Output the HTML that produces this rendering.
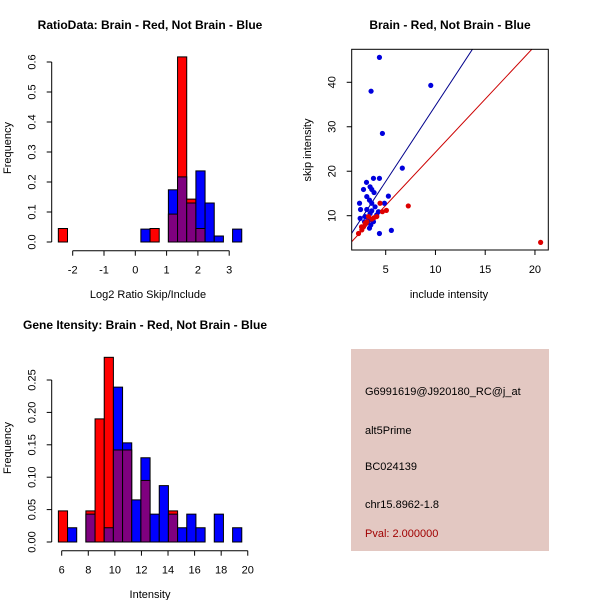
<!DOCTYPE html>
<html><head><meta charset="utf-8">
<style>
body{margin:0;background:#fff;}
svg{display:block;font-family:"Liberation Sans",Arial,sans-serif;}
</style></head>
<body>
<svg id="c" width="600" height="600" viewBox="0 0 600 600">
<rect width="600" height="600" fill="#fff"/>
<text x="150" y="29" text-anchor="middle" font-size="12" font-weight="bold">RatioData: Brain - Red, Not Brain - Blue</text>
<text x="148" y="298" text-anchor="middle" font-size="11">Log2 Ratio Skip/Include</text>
<text transform="translate(11,148) rotate(-90)" text-anchor="middle" font-size="11">Frequency</text>

<text x="450" y="29" text-anchor="middle" font-size="12" font-weight="bold">Brain - Red, Not Brain - Blue</text>
<text x="449" y="298" text-anchor="middle" font-size="11">include intensity</text>
<text transform="translate(311,150) rotate(-90)" text-anchor="middle" font-size="11">skip intensity</text>

<text x="145" y="329" text-anchor="middle" font-size="12" font-weight="bold">Gene Itensity: Brain - Red, Not Brain - Blue</text>
<text x="150" y="598" text-anchor="middle" font-size="11">Intensity</text>
<text transform="translate(11,448) rotate(-90)" text-anchor="middle" font-size="11">Frequency</text>

<g>
<rect x="351" y="349" width="198" height="202" fill="#e3c8c2"/>
<text x="365" y="395" font-size="11">G6991619@J920180_RC@j_at</text>
<text x="365" y="434" font-size="11">alt5Prime</text>
<text x="365" y="470" font-size="11">BC024139</text>
<text x="365" y="508" font-size="11">chr15.8962-1.8</text>
<text x="365" y="537" font-size="11" fill="#a00000">Pval: 2.000000</text>
</g>
</svg>
<script>
// Ratio histogram data
const ratioBinStart = -2.459;
const ratioBinWidth = 0.293;
const ratioRed  = [0.045,0,0,0,0,0,0,0,0,0,0.045,0,0.093,0.617,0.143,0.045,0,0,0,0];
const ratioBlue = [0,0,0,0,0,0,0,0,0,0.043,0,0,0.174,0.217,0.13,0.237,0.13,0.02,0,0.043];
const ratioXTicks = [-2,-1,0,1,2,3];
const ratioYTicks = [0.0,0.1,0.2,0.3,0.4,0.5,0.6];
const ratioYLabels = ["0.0","0.1","0.2","0.3","0.4","0.5","0.6"];

// Intensity histogram data
const intBinStart = 5.75;
const intBinWidth = 0.69;
const intRed  = [0.048,0,0,0.048,0.19,0.285,0.142,0.142,0,0.095,0,0,0.048,0,0,0,0,0,0,0];
const intBlue = [0,0.022,0,0.043,0,0.022,0.239,0.153,0.065,0.13,0.043,0.087,0.043,0.022,0.043,0.022,0,0.043,0,0.022];
const intXTicks = [6,8,10,12,14,16,18,20];
const intYTicks = [0,0.05,0.10,0.15,0.20,0.25];
const intYLabels = ["0.00","0.05","0.10","0.15","0.20","0.25"];

// Scatter data
const blueX = [4.37,3.53,9.53,4.67,6.67,3.77,4.37,3.07,2.77,3.43,3.6,3.83,5.27,2.37,3.1,3.37,3.6,4.87,2.47,3.1,3.6,3.93,3.43,4.27,3.27,2.43,2.93,3.77,4.1,3.37,4.37,5.57,2.87,3.5];
const blueY = [45.6,38.0,39.3,28.5,20.7,18.4,18.4,17.5,15.9,16.5,15.9,15.2,14.4,12.8,14.3,13.5,12.8,12.8,11.4,11.4,11.1,12.0,10.5,10.9,9.0,9.4,9.8,8.65,10.2,7.2,6.0,6.7,8.65,7.9];
const redX = [2.27,2.57,2.77,2.6,2.93,3.1,3.27,3.6,3.83,4.1,4.43,5.07,4.67,7.27,20.57];
const redY = [6.0,7.5,7.5,6.8,8.3,8.65,9.8,9.25,9.55,9.8,12.8,11.2,10.9,12.2,4.0];
const blueFit = [0.65,3.41]; // intercept, slope
const redFit = [0.37,2.39];
const scXTicks = [5,10,15,20];
const scYTicks = [10,20,30,40];

const NS="http://www.w3.org/2000/svg";
const svg=document.getElementById('c');
function mk(tag,attrs,parent){const e=document.createElementNS(NS,tag);for(const k in attrs)e.setAttribute(k,attrs[k]);(parent||svg).appendChild(e);return e;}

function hist(opts){
  const g=mk('g',{});
  
  
  const sx=v=>opts.x0+(v-opts.d0)*opts.kx;
  const sy=v=>opts.y0-v*opts.ky;
  for(let i=0;i<opts.red.length;i++){
    const l=opts.start+i*opts.w, r=l+opts.w;
    const rv=opts.red[i], bv=opts.blue[i];
    const hi=Math.max(rv,bv), lo=Math.min(rv,bv);
    const hiCol = rv>=bv ? '#ff0000' : '#0000ff';
    const x=sx(l), w=sx(r)-sx(l);
    const b1=mk('rect',{x:x,y:sy(hi),width:w,height:sy(0)-sy(hi),fill:hiCol,stroke:'#000','stroke-width':1},g);
    
    
    if(lo>0){
      const b2=mk('rect',{x:x,y:sy(lo),width:w,height:sy(0)-sy(lo),fill:'#7f007f',stroke:'#000','stroke-width':1},g);
      
      
    }
  }
  const ya=mk('g',{});
  
  
  const yt=opts.yTicks;
  mk('line',{x1:opts.ax,x2:opts.ax,y1:sy(yt[0]),y2:sy(yt[yt.length-1]),stroke:'#000'},ya);
  yt.forEach((t,i)=>{
    mk('line',{x1:opts.ax-5,x2:opts.ax,y1:sy(t),y2:sy(t),stroke:'#000'},ya);
    const tx=mk('text',{transform:`translate(${opts.ax-16},${sy(t)}) rotate(-90)`,'text-anchor':'middle','font-size':11},ya);
    tx.textContent=opts.yLabels[i];
  });
  const xa=mk('g',{});
  
  
  const xt=opts.xTicks;
  mk('line',{x1:sx(xt[0]),x2:sx(xt[xt.length-1]),y1:opts.ay,y2:opts.ay,stroke:'#000'},xa);
  xt.forEach(t=>{
    mk('line',{x1:sx(t),x2:sx(t),y1:opts.ay,y2:opts.ay+5,stroke:'#000'},xa);
    const tx=mk('text',{x:sx(t),y:opts.ay+23,'text-anchor':'middle','font-size':11},xa);
    tx.textContent=String(t);
  });
}

hist({name:'ratio-histogram',red:ratioRed,blue:ratioBlue,start:ratioBinStart,w:ratioBinWidth,
  x0:72.7,d0:-2,kx:31.3,y0:242,ky:300,ax:51.7,ay:250.7,
  xTicks:ratioXTicks,yTicks:ratioYTicks,yLabels:ratioYLabels});
hist({name:'intensity-histogram',red:intRed,blue:intBlue,start:intBinStart,w:intBinWidth,
  x0:61.7,d0:6,kx:13.29,y0:542,ky:648,ax:51.7,ay:550.7,
  xTicks:intXTicks,yTicks:intYTicks,yLabels:intYLabels});

(function(){
  const L=351.7,R=548.3,T=49.3,B=250;
  const sx=v=>385.7+(v-5)*9.95;
  const sy=v=>215.7-(v-10)*4.447;
  const g=mk('g',{});
  
  
  const defs=mk('defs',{},g);
  const cp=mk('clipPath',{id:'scclip'},defs);
  mk('rect',{x:L,y:T,width:R-L,height:B-T},cp);
  const lines=mk('g',{'clip-path':'url(#scclip)'},g);
  const x1=1,x2=25;
  const bl=mk('line',{x1:sx(x1),y1:sy(blueFit[0]+blueFit[1]*x1),x2:sx(x2),y2:sy(blueFit[0]+blueFit[1]*x2),stroke:'#00008b','stroke-width':1},lines);
  
  
  const rl=mk('line',{x1:sx(x1),y1:sy(redFit[0]+redFit[1]*x1),x2:sx(x2),y2:sy(redFit[0]+redFit[1]*x2),stroke:'#cc0000','stroke-width':1},lines);
  
  
  const pts=mk('g',{'clip-path':'url(#scclip)'},g);
  blueX.forEach((v,i)=>{
    const c=mk('circle',{cx:sx(v),cy:sy(blueY[i]),r:2.6,fill:'#0000dd'},pts);
    
    
  });
  redX.forEach((v,i)=>{
    const c=mk('circle',{cx:sx(v),cy:sy(redY[i]),r:2.6,fill:'#dd0000'},pts);
    
    
  });
  const box=mk('rect',{x:L,y:T,width:R-L,height:B-T,fill:'none',stroke:'#000'},g);
  
  
  scXTicks.forEach(t=>{
    mk('line',{x1:sx(t),x2:sx(t),y1:B,y2:B+5,stroke:'#000'},g);
    const tx=mk('text',{x:sx(t),y:B+23,'text-anchor':'middle','font-size':11},g);
    tx.textContent=String(t);
  });
  scYTicks.forEach(t=>{
    mk('line',{x1:L-5,x2:L,y1:sy(t),y2:sy(t),stroke:'#000'},g);
    const tx=mk('text',{transform:`translate(${L-16},${sy(t)}) rotate(-90)`,'text-anchor':'middle','font-size':11},g);
    tx.textContent=String(t);
  });
})();
</script>
</body></html>
